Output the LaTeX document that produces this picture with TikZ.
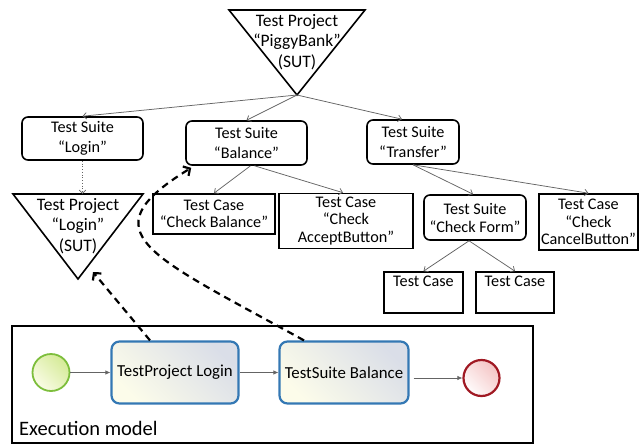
\documentclass[tikz,border=0pt]{standalone}
\usepackage{fontspec}
\setmainfont{Carlito}
\usetikzlibrary{arrows.meta}
\definecolor{taskblue}{RGB}{52,120,180}
\definecolor{taskA}{RGB}{252,252,234}
\definecolor{taskB}{RGB}{218,222,232}
\definecolor{startg}{RGB}{125,190,60}
\definecolor{startA}{RGB}{250,252,230}
\definecolor{startB}{RGB}{212,234,150}
\definecolor{endr}{RGB}{160,25,35}
\definecolor{endA}{RGB}{255,252,252}
\definecolor{endB}{RGB}{244,196,196}
\definecolor{edgegray}{RGB}{100,100,100}
\begin{document}
\begin{tikzpicture}[x=1pt,y=-1pt,
  suite/.style={draw, rounded corners=6pt, line width=1.6pt, align=center, inner sep=0pt,
    font=\fontsize{16.2}{19.5}\selectfont},
  tcase/.style={draw, line width=1.6pt, align=center, inner sep=0pt,
    font=\fontsize{16.2}{17.5}\selectfont},
  tri/.style={draw, line width=1.6pt, line join=miter},
  tritext/.style={align=center, inner sep=0pt, font=\fontsize{17.5}{20.5}\selectfont},
  treeedge/.style={draw=edgegray, line width=0.75pt, -{Straight Barb[length=3.5pt,width=6.5pt]}},
  linkedge/.style={draw=edgegray, line width=0.75pt, dotted, -{Straight Barb[length=3.5pt,width=6.5pt,line width=0.7pt]}},
  refedge/.style={draw=black, line width=2.2pt, dash pattern=on 7pt off 5pt,
    -{Straight Barb[length=5pt,width=11pt,line width=2.2pt]}},
  task/.style={draw=taskblue, line width=2.2pt, rounded corners=8pt, left color=taskA, right color=taskB,
    shading angle=135, minimum height=62pt, inner sep=0pt, font=\fontsize{16.8}{19}\selectfont},
  flow/.style={draw=edgegray, line width=0.7pt, -{Latex[length=5pt,width=4.5pt]}},
]
\useasboundingbox (0,0) rectangle (641,445);

% top project triangle
\draw[tri] (229,10) -- (365,10) -- (297,95) -- cycle;
\coordinate (pbapex) at (297,95);
\node[tritext] (pb) at (297,42) {Test Project\\“PiggyBank”\\(SUT)};

% login project triangle
\draw[tri] (13,194) -- (143,194) -- (78,279) -- cycle;
\coordinate (tpltop) at (78,194);
\coordinate (tplhit) at (93,272);
\node[tritext] (tpl) at (78,226) {Test Project\\“Login”\\(SUT)};

% suites
\node[suite, minimum width=121pt, minimum height=43pt] (login) at (82.5,138.5) {Test Suite\\“Login”};
\node[suite, minimum width=121pt, minimum height=44pt] (balance) at (246.5,143) {Test Suite\\“Balance”};
\node[suite, minimum width=92pt, minimum height=44pt] (transfer) at (413,142) {Test Suite\\“Transfer”};
\node[suite, minimum width=102pt, minimum height=45pt, font=\fontsize{16.2}{18}\selectfont] (cf) at (475,217.5) {Test Suite\\“Check Form”};

% cases
\node[tcase, minimum width=122pt, minimum height=40pt] (cb) at (214,214) {Test Case\\“Check Balance”};
\node[tcase, minimum width=134pt, minimum height=55pt] (ab) at (346,221) {Test Case\\“Check\\AcceptButton”};
\node[tcase, minimum width=99pt, minimum height=56pt] (cc) at (588.5,222) {Test Case\\“Check\\CancelButton”};
\node[tcase, minimum width=79pt, minimum height=41pt] (tc1) at (423.5,292.5) {Test Case\\\strut};
\node[tcase, minimum width=78pt, minimum height=41pt] (tc2) at (515,292.5) {Test Case\\\strut};

% tree edges
\draw[treeedge] (pbapex) -- (login.north);
\draw[treeedge] (pbapex) -- (balance.north);
\draw[treeedge] (pbapex) -- ([xshift=-11pt]transfer.north);
\draw[treeedge] ([xshift=4pt]balance.south) -- (cb.north);
\draw[treeedge] ([xshift=8pt]balance.south) -- ([xshift=-3pt]ab.north);
\draw[treeedge] (transfer.south) -- ([xshift=-2pt]cf.north);
\draw[treeedge] (transfer.south) -- (cc.north);
\draw[treeedge] ([xshift=-6pt]cf.south) -- (tc1.north);
\draw[treeedge] ([xshift=-6pt]cf.south) -- (tc2.north);
\draw[linkedge] (login.south) -- (login.south |- tpltop);

% execution model
\draw[line width=1.6pt] (12,326) rectangle (533,443);
\node[circle, draw=startg, line width=1.8pt, left color=startA, right color=startB, shading angle=135,
  minimum size=37pt, inner sep=0pt] (start) at (51,372.5) {};
\node[task, minimum width=127pt] (task1) at (175,372.5) {TestProject Login};
\node[task, minimum width=129pt] (task2) at (344,372.5) {TestSuite Balance};
\node[circle, draw=endr, line width=2.2pt, left color=endA, right color=endB, shading angle=135,
  minimum size=36pt, inner sep=0pt] (endc) at (481.5,378) {};
\node[anchor=west, inner sep=0pt, font=\fontsize{20.5}{24}\selectfont] (exlabel) at (19,428) {Execution model};

\draw[flow] (start) -- (task1);
\draw[flow] (task1) -- (task2);
\draw[flow] ([xshift=4pt]task2.east |- endc.west) -- (endc.west);

% reference links
\draw[refedge] ([xshift=-25pt]task1.north) -- (tplhit);
\draw[refedge] ([xshift=-40pt]task2.north) .. controls (150,255) and (85,233) .. ([xshift=6pt,yshift=-2pt]balance.south west);
\end{tikzpicture}
\end{document}
